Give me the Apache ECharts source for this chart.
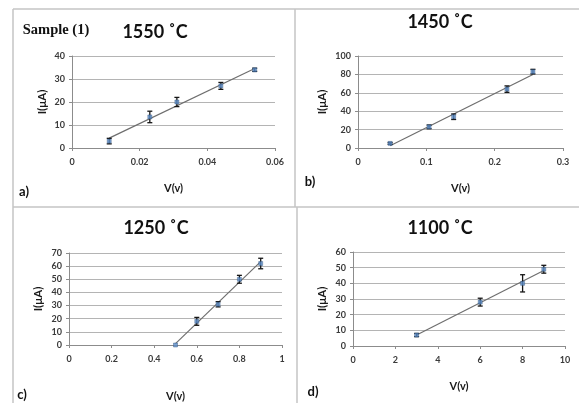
<!DOCTYPE html>
<html>
<head>
<meta charset="utf-8">
<title>I-V curves</title>
<script src="https://cdn.jsdelivr.net/npm/echarts@6/dist/echarts.min.js"></script>
<style>
  html, body { margin: 0; padding: 0; background: #fff; }
  #main { width: 579px; height: 403px; }
</style>
</head>
<body>
<div id="main"></div>
<script>
// panel a) 1550 C
const aVolt = [0.011, 0.023, 0.031, 0.044, 0.054];
const aCurr = [3, 13.5, 20, 27, 34];
const aErr = [1.2, 2.5, 2, 1.5, 0.7];
// panel b) 1450 C
const bVolt = [0.047, 0.104, 0.14, 0.218, 0.256];
const bCurr = [5, 23, 34, 64, 83];
const bErr = [1, 2, 3, 3.5, 2.5];
// panel c) 1250 C
const cVolt = [0.5, 0.6, 0.7, 0.8, 0.9];
const cCurr = [0, 18, 31, 50, 62];
const cErr = [0, 3, 2, 3, 4];
// panel d) 1100 C
const dVolt = [3, 6, 8, 9];
const dCurr = [7, 28, 40, 49];
const dErr = [1, 2.5, 5.5, 2.5];

const titles = ['1550 ˚C', '1450 ˚C', '1250 ˚C', '1100 ˚C'];
const panelTags = ['a)', 'b)', 'c)', 'd)'];

const chart = echarts.init(document.getElementById('main'), null, { renderer: 'canvas' });

const FONT = 'Lato, "Open Sans", sans-serif';
const GRID_COLOR = '#b4b4b4';

// least squares line, drawn from first to last x like a spreadsheet trendline
function trend(xs, ys) {
  const n = xs.length;
  const mx = xs.reduce((s, v) => s + v, 0) / n;
  const my = ys.reduce((s, v) => s + v, 0) / n;
  let sxy = 0, sxx = 0;
  for (let i = 0; i < n; i++) {
    sxy += (xs[i] - mx) * (ys[i] - my);
    sxx += (xs[i] - mx) * (xs[i] - mx);
  }
  const k = sxy / sxx;
  const x0 = Math.min(...xs), x1 = Math.max(...xs);
  return [[x0, my + k * (x0 - mx)], [x1, my + k * (x1 - mx)]];
}

function xAxis(idx, max, interval, gap) {
  return {
    type: 'value', gridIndex: idx, min: 0, max: max, interval: interval,
    name: 'V(v)', nameLocation: 'middle', nameGap: gap,
    nameTextStyle: { fontFamily: FONT, fontWeight: 'bold', fontSize: 11, color: '#1a1a1a' },
    axisLine: { show: true, onZero: false, lineStyle: { color: '#8c8c8c' } },
    axisTick: { show: true, length: 3, lineStyle: { color: '#8c8c8c' } },
    axisLabel: { fontFamily: FONT, fontWeight: 'bold', fontSize: 9, color: '#3a3a3a', margin: 10 },
    splitLine: { show: false }
  };
}

function yAxis(idx, max, interval, gap) {
  return {
    type: 'value', gridIndex: idx, min: 0, max: max, interval: interval,
    name: 'I(μA)', nameLocation: 'middle', nameGap: gap, nameRotate: 90,
    nameTextStyle: { fontFamily: FONT, fontWeight: 'bold', fontSize: 11.5, color: '#1a1a1a' },
    axisLine: { show: true, lineStyle: { color: '#8c8c8c' } },
    axisTick: { show: true, length: 3, lineStyle: { color: '#8c8c8c' } },
    axisLabel: { fontFamily: FONT, fontWeight: 'bold', fontSize: 9, color: '#3a3a3a', margin: 7 },
    splitLine: { show: true, lineStyle: { color: GRID_COLOR, width: 1 } }
  };
}

function panelSeries(idx, xs, ys, es) {
  const errData = [];
  xs.forEach((x, i) => { if (es[i] > 0) errData.push([x, ys[i] - es[i], ys[i] + es[i]]); });
  return [
    {
      type: 'line', xAxisIndex: idx, yAxisIndex: idx,
      data: trend(xs, ys), symbol: 'none', silent: true,
      lineStyle: { color: '#6e6e6e', width: 1.2 }, z: 2
    },
    {
      type: 'custom', xAxisIndex: idx, yAxisIndex: idx,
      data: errData, encode: { x: 0, y: [1, 2] }, z: 4,
      renderItem: function (params, api) {
        const lo = api.coord([api.value(0), api.value(1)]);
        const hi = api.coord([api.value(0), api.value(2)]);
        const w = 2.5;
        const st = { stroke: '#151515', lineWidth: 1.3 };
        return {
          type: 'group',
          children: [
            { type: 'line', shape: { x1: lo[0], y1: lo[1], x2: hi[0], y2: hi[1] }, style: st },
            { type: 'line', shape: { x1: lo[0] - w, y1: lo[1], x2: lo[0] + w, y2: lo[1] }, style: st },
            { type: 'line', shape: { x1: hi[0] - w, y1: hi[1], x2: hi[0] + w, y2: hi[1] }, style: st }
          ]
        };
      }
    },
    {
      type: 'scatter', xAxisIndex: idx, yAxisIndex: idx,
      data: xs.map((x, i) => [x, ys[i]]),
      symbol: 'rect', symbolSize: 4, z: 5,
      itemStyle: { color: '#5b8cc8', borderColor: '#2f4f7a', borderWidth: 0.5 }
    }
  ];
}

function txt(x, y, text, size, extra) {
  return {
    type: 'text', x: x, y: y, silent: true,
    style: Object.assign({
      text: text, fontFamily: FONT, fontWeight: 'bold', fontSize: size,
      fill: '#111', align: 'center', verticalAlign: 'middle'
    }, extra || {})
  };
}

const border = { stroke: '#c4c4c4', lineWidth: 1.5 };

chart.setOption({
  backgroundColor: '#fff',
  animation: false,
  grid: [
    { left: 72, right: 304, top: 56, bottom: 255 },
    { left: 358, right: 16, top: 56, bottom: 255 },
    { left: 69, right: 297, top: 253, bottom: 57 },
    { left: 353, right: 14, top: 252, bottom: 57 }
  ],
  xAxis: [
    xAxis(0, 0.06, 0.02, 35),
    xAxis(1, 0.3, 0.1, 35),
    xAxis(2, 1, 0.2, 46),
    xAxis(3, 10, 2, 35)
  ],
  yAxis: [
    yAxis(0, 40, 10, 24),
    yAxis(1, 100, 20, 30),
    yAxis(2, 70, 10, 25),
    yAxis(3, 60, 10, 25)
  ],
  series: [].concat(
    panelSeries(0, aVolt, aCurr, aErr),
    panelSeries(1, bVolt, bCurr, bErr),
    panelSeries(2, cVolt, cCurr, cErr),
    panelSeries(3, dVolt, dCurr, dErr)
  ),
  graphic: [
    { type: 'line', shape: { x1: 13, y1: 9, x2: 579, y2: 9 }, style: border, silent: true },
    { type: 'line', shape: { x1: 13, y1: 9, x2: 13, y2: 403 }, style: border, silent: true },
    { type: 'line', shape: { x1: 13, y1: 207, x2: 579, y2: 207 }, style: border, silent: true },
    { type: 'line', shape: { x1: 295, y1: 9, x2: 295, y2: 207 }, style: border, silent: true },
    { type: 'line', shape: { x1: 297, y1: 207, x2: 297, y2: 403 }, style: border, silent: true },
    txt(155, 32, titles[0], 18),
    txt(440, 22, titles[1], 18),
    txt(156, 228, titles[2], 18),
    txt(440, 228, titles[3], 18),
    txt(56, 30, 'Sample (1)', 14.5, { fontFamily: '"Liberation Serif", "DejaVu Serif", serif' }),
    txt(24, 192, panelTags[0], 13),
    txt(310, 182, panelTags[1], 13),
    txt(22, 395, panelTags[2], 13),
    txt(313, 392, panelTags[3], 13)
  ]
});
</script>
</body>
</html>
